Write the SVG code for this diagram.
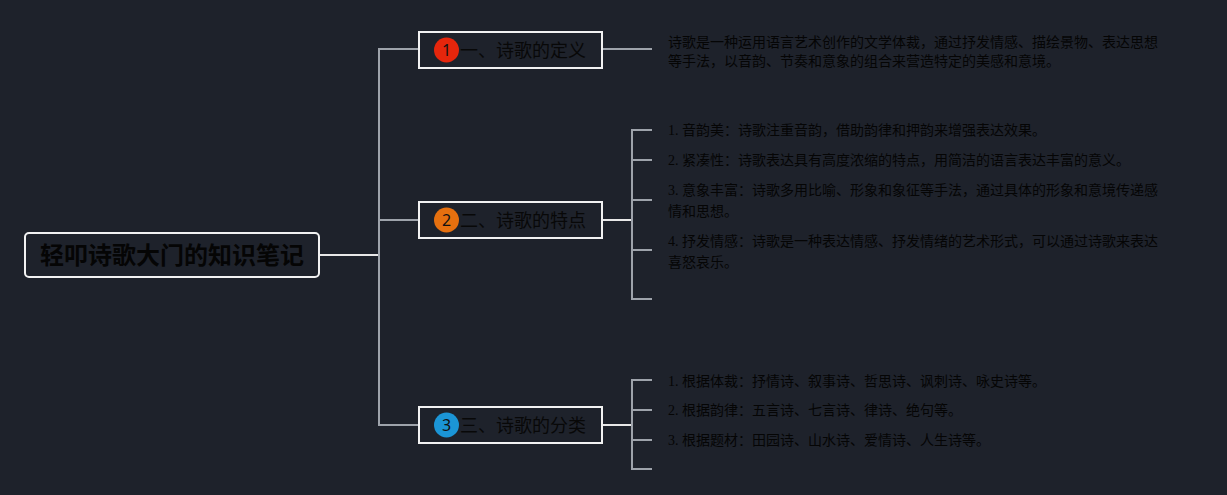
<svg xmlns="http://www.w3.org/2000/svg" width="1227" height="495" viewBox="0 0 1227 495">
<style>
.bg{fill:#1e222b}
.gray{stroke:#9ea3ab;stroke-width:2;fill:none}
.white{stroke:#e8e8e8;stroke-width:2;fill:none}
.box{fill:#1e222b;stroke:#f2f2f2;stroke-width:2}
.root{font-family:"Noto Sans CJK SC",sans-serif;font-size:24px;font-weight:bold;fill:#050505}
.lbl{font-family:"Noto Sans CJK SC",sans-serif;font-size:18px;fill:#080808}
.num{font-family:"Noto Sans",sans-serif;font-size:16px;fill:#111}
.leaf{font-family:"Liberation Serif","Noto Sans CJK SC",serif;font-size:14px;fill:#050505}
</style>
<rect class="bg" x="0" y="0" width="1227" height="495"/>
<g id="connectors">
  <path class="white" d="M319,255 H379"/>
  <path class="gray" d="M419,49 H379 V425 H419 M379,220 H419"/>
  <path class="gray" d="M602,49 H652"/>
  <path class="white" d="M602,220 H632"/>
  <path class="gray" d="M652,130 H632 V299 H652 M632,160 H652 M632,200 H652 M632,250 H652"/>
  <path class="white" d="M602,425 H632"/>
  <path class="gray" d="M652,380 H632 V469 H652 M632,410 H652 M632,440 H652"/>
</g>
<g id="root">
  <rect class="box" x="25" y="233" width="294" height="44" rx="4"/>
  <text class="root" x="172" y="263.5" text-anchor="middle">轻叩诗歌大门的知识笔记</text>
</g>
<g id="n1">
  <rect class="box" x="419" y="32" width="183" height="36"/>
  <circle cx="446.5" cy="50" r="12.5" fill="#e6260c"/>
  <text class="num" x="446.5" y="55.5" text-anchor="middle">1</text>
  <text class="lbl" x="460" y="56.5">一、诗歌的定义</text>
</g>
<g id="n2">
  <rect class="box" x="419" y="202" width="183" height="36"/>
  <circle cx="446.5" cy="220" r="12.5" fill="#e6700f"/>
  <text class="num" x="446.5" y="225.5" text-anchor="middle">2</text>
  <text class="lbl" x="460" y="226.5">二、诗歌的特点</text>
</g>
<g id="n3">
  <rect class="box" x="419" y="407" width="183" height="36"/>
  <circle cx="446.5" cy="425" r="12.5" fill="#1b95d6"/>
  <text class="num" x="446.5" y="430.5" text-anchor="middle">3</text>
  <text class="lbl" x="460" y="431.5">三、诗歌的分类</text>
</g>
<g id="leaf1">
  <text class="leaf" x="668" y="47">诗歌是一种运用语言艺术创作的文学体裁，通过抒发情感、描绘景物、表达思想</text>
  <text class="leaf" x="668" y="66">等手法，以音韵、节奏和意象的组合来营造特定的美感和意境。</text>
</g>
<g id="leaf2-1"><text class="leaf" x="668" y="135">1. 音韵美：诗歌注重音韵，借助韵律和押韵来增强表达效果。</text></g>
<g id="leaf2-2"><text class="leaf" x="668" y="165">2. 紧凑性：诗歌表达具有高度浓缩的特点，用简洁的语言表达丰富的意义。</text></g>
<g id="leaf2-3">
  <text class="leaf" x="668" y="195">3. 意象丰富：诗歌多用比喻、形象和象征等手法，通过具体的形象和意境传递感</text>
  <text class="leaf" x="668" y="216">情和思想。</text>
</g>
<g id="leaf2-4">
  <text class="leaf" x="668" y="246">4. 抒发情感：诗歌是一种表达情感、抒发情绪的艺术形式，可以通过诗歌来表达</text>
  <text class="leaf" x="668" y="267">喜怒哀乐。</text>
</g>
<g id="leaf3-1"><text class="leaf" x="668" y="386">1. 根据体裁：抒情诗、叙事诗、哲思诗、讽刺诗、咏史诗等。</text></g>
<g id="leaf3-2"><text class="leaf" x="668" y="415">2. 根据韵律：五言诗、七言诗、律诗、绝句等。</text></g>
<g id="leaf3-3"><text class="leaf" x="668" y="445">3. 根据题材：田园诗、山水诗、爱情诗、人生诗等。</text></g>
</svg>
